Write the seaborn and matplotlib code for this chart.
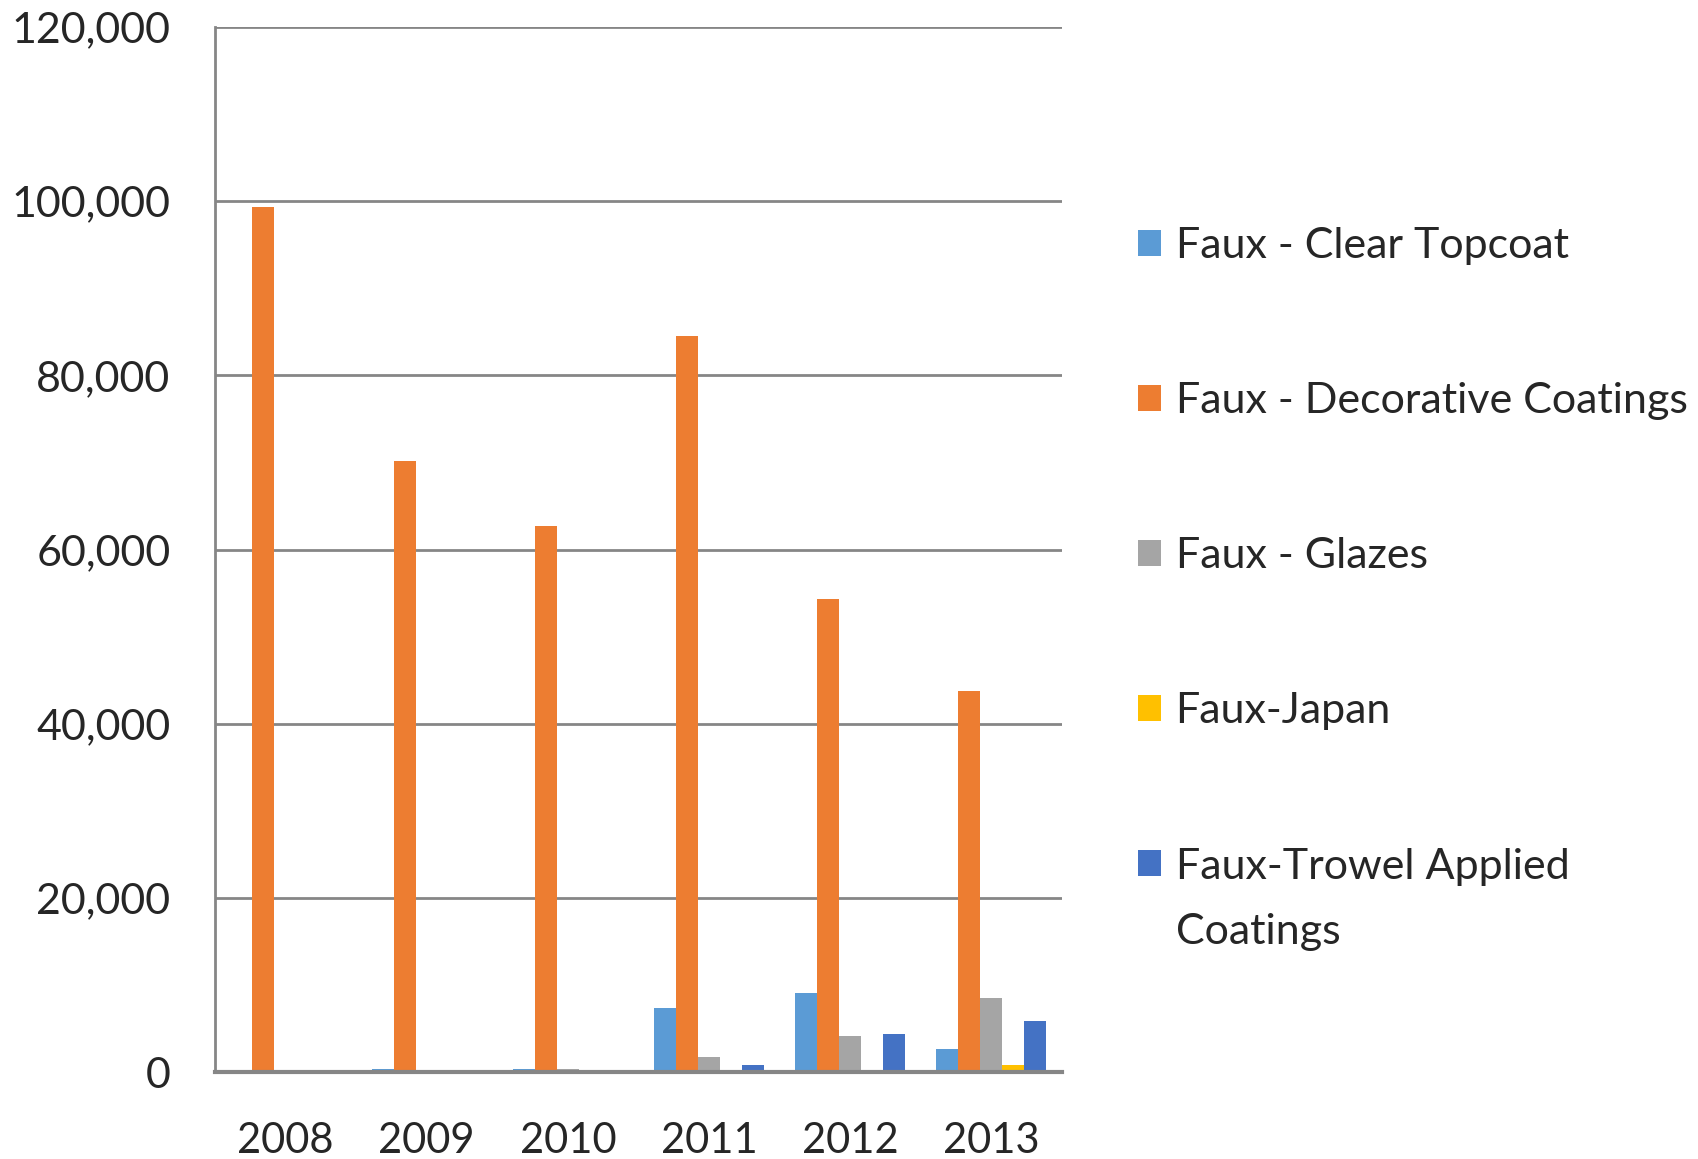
import seaborn as sns
import pandas as pd
import matplotlib.pyplot as plt
from matplotlib.patches import Patch
from matplotlib.ticker import FuncFormatter

YEARS = ['2008', '2009', '2010', '2011', '2012', '2013']
SERIES = ['Faux - Clear Topcoat', 'Faux - Decorative Coatings', 'Faux - Glazes',
          'Faux-Japan', 'Faux-Trowel Applied Coatings']
CLEAR_TOPCOAT = [0, 380, 380, 7350, 9080, 2650]
DECORATIVE = [99300, 70200, 62700, 84500, 54300, 43800]
GLAZES = [0, 0, 380, 1720, 4140, 8500]
JAPAN = [0, 0, 0, 0, 0, 800]
TROWEL = [0, 0, 0, 800, 4370, 5860]
COLORS = ['#5B9BD5', '#ED7D31', '#A5A5A5', '#FFC000', '#4472C4']

rows = []
for name, vals in zip(SERIES, [CLEAR_TOPCOAT, DECORATIVE, GLAZES, JAPAN, TROWEL]):
    for yr, v in zip(YEARS, vals):
        rows.append({'year': yr, 'series': name, 'value': v})
df = pd.DataFrame(rows)

sns.set_style('white')
plt.rcParams['font.family'] = ['Lato', 'DejaVu Sans']

fig = plt.figure(figsize=(16.99, 11.59), dpi=100)
ax = fig.add_axes([0.1265, 0.075, 0.4985, 0.9017])

sns.barplot(data=df, x='year', y='value', hue='series', palette=COLORS,
            width=0.78, saturation=1, linewidth=0, ax=ax, legend=False)

ax.set_ylim(0, 120000)
ax.set_yticks(range(0, 120001, 20000))
ax.yaxis.set_major_formatter(FuncFormatter(lambda v, p: f'{int(v):,}'))
ax.grid(axis='y', color='#868686', linewidth=2)
ax.set_axisbelow(True)
for s in ['top', 'right']:
    ax.spines[s].set_visible(False)
ax.spines['left'].set_color('#868686')
ax.spines['left'].set_linewidth(2)
ax.spines['bottom'].set_color('#868686')
ax.spines['bottom'].set_linewidth(3)
ax.set_xlabel('')
ax.set_ylabel('')
ax.tick_params(axis='y', labelsize=31, length=0, pad=32)
ax.tick_params(axis='x', labelsize=30, length=0, pad=36)

# legend: last label wraps onto a second line set well below the first
legend_labels = SERIES[:-1] + ['Faux-Trowel Applied']
handles = [Patch(facecolor=c, edgecolor='none') for c in COLORS]
leg = fig.legend(handles, legend_labels, loc='upper left', bbox_to_anchor=(0.6468, 0.8375),
                 frameon=False, fontsize=31, handlelength=0.55, handleheight=0.55,
                 handletextpad=0.33, labelspacing=2.72)

fig.canvas.draw()
bb = leg.get_texts()[-1].get_window_extent()
fig.text(bb.x0 / fig.bbox.width, (bb.y0 - 65) / fig.bbox.height, 'Coatings',
         fontsize=31, ha='left', va='bottom')

fig.savefig('out.png', dpi=100)
